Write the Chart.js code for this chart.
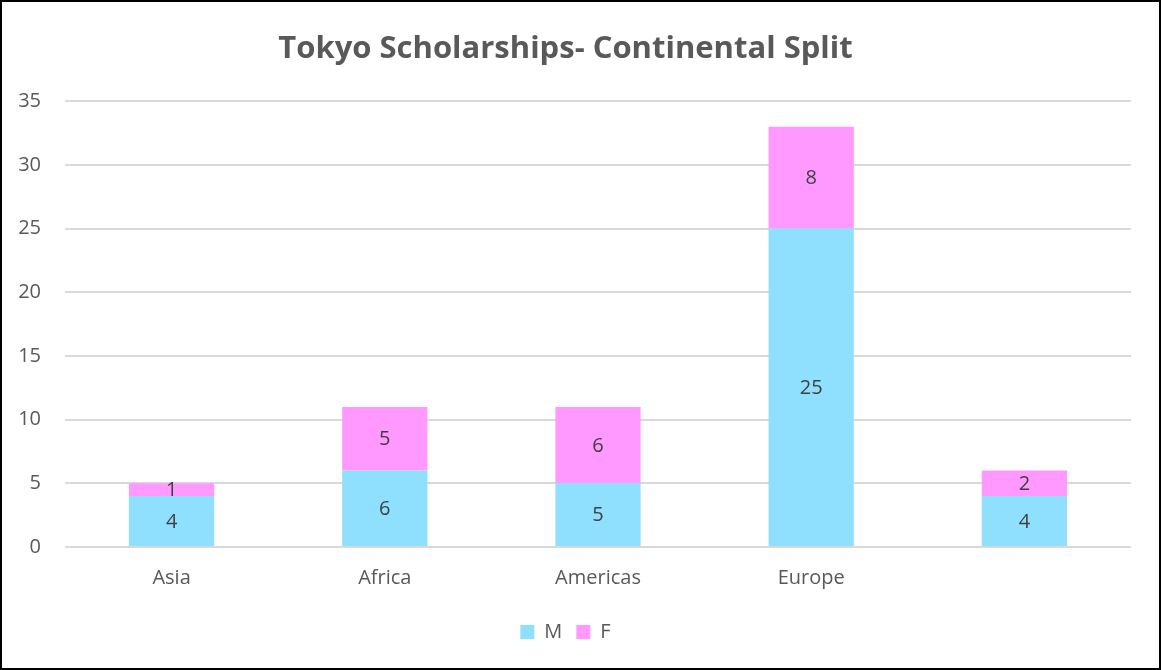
<!DOCTYPE html>
<html>
<head>
<meta charset="utf-8">
<script src="https://cdn.jsdelivr.net/npm/chart.js@4.4.0/dist/chart.umd.min.js"></script>
<style>
  body { margin: 0; background: #fff; }
  #wrap { position: relative; width: 1161px; height: 670px; }
  #frame { position: absolute; left: 0; top: 0; width: 1161px; height: 670px; box-sizing: border-box; border: 2px solid #000; pointer-events: none; }
</style>
</head>
<body>
<div id="wrap">
  <canvas id="chart" width="1161" height="670"></canvas>
  <div id="frame"></div>
</div>
<script>
// Dados do gráfico
const categories = ['Asia', 'Africa', 'Americas', 'Europe', ''];
const maleValues = [4, 6, 5, 25, 4];
const femaleValues = [1, 5, 6, 8, 2];
const yTicks = [0, 5, 10, 15, 20, 25, 30, 35];

const textColor = '#595959';
const fontFamily = '"Open Sans", Calibri, sans-serif';

// Plugin simples para escrever os valores no meio de cada barra
const barLabels = {
  id: 'barLabels',
  afterDatasetsDraw(chart) {
    const ctx = chart.ctx;
    ctx.save();
    ctx.font = '20px ' + fontFamily;
    ctx.fillStyle = '#404040';
    ctx.textAlign = 'center';
    ctx.textBaseline = 'middle';
    chart.data.datasets.forEach((ds, i) => {
      const meta = chart.getDatasetMeta(i);
      meta.data.forEach((bar, j) => {
        const v = ds.data[j];
        if (!v) return;
        const mid = (bar.y + bar.base) / 2;
        ctx.fillText(String(v), bar.x, mid + 1);
      });
    });
    ctx.restore();
  }
};

const ctx = document.getElementById('chart').getContext('2d');
const chart = new Chart(ctx, {
  type: 'bar',
  data: {
    labels: categories,
    datasets: [
      {
        label: 'M',
        data: maleValues,
        backgroundColor: '#8FE0FF',
        categoryPercentage: 1,
        barPercentage: 0.4
      },
      {
        label: 'F',
        data: femaleValues,
        backgroundColor: '#FF99FF',
        categoryPercentage: 1,
        barPercentage: 0.4
      }
    ]
  },
  options: {
    responsive: false,
    animation: false,
    layout: { padding: { left: 0, right: 30, top: 0, bottom: 18 } },
    plugins: {
      title: {
        display: true,
        text: 'Tokyo Scholarships- Continental Split',
        color: textColor,
        font: { family: fontFamily, size: 31, weight: 'bold' },
        padding: { top: 31, bottom: 33 }
      },
      legend: {
        position: 'bottom',
        labels: {
          color: textColor,
          font: { family: fontFamily, size: 20 },
          boxWidth: 14,
          boxHeight: 14,
          padding: 14
        }
      },
      tooltip: { enabled: false }
    },
    scales: {
      x: {
        stacked: true,
        afterFit(scale) {
          scale.height = 61;
        },
        grid: { display: false },
        border: { display: false },
        ticks: {
          color: textColor,
          font: { family: fontFamily, size: 20 },
          padding: 11
        }
      },
      y: {
        stacked: true,
        min: 0,
        max: 35,
        afterBuildTicks(scale) {
          scale.ticks = yTicks.map(v => ({ value: v }));
        },
        afterFit(scale) {
          scale.width = 65;
        },
        grid: { color: '#D9D9D9', lineWidth: 2, drawTicks: false },
        border: { display: false },
        ticks: {
          color: textColor,
          font: { family: fontFamily, size: 20 },
          padding: 24
        }
      }
    }
  },
  plugins: [barLabels]
});
</script>
</body>
</html>
